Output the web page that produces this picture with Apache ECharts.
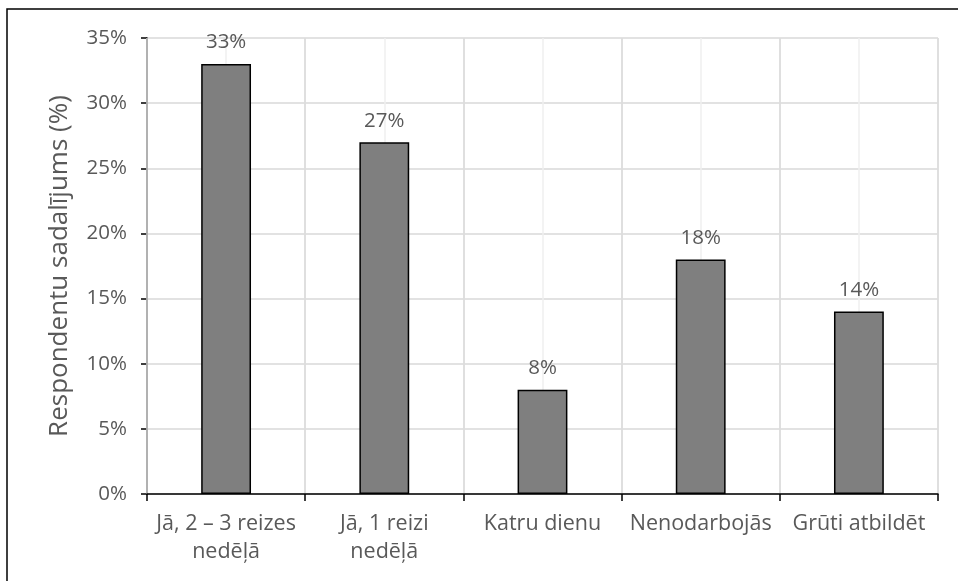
<!DOCTYPE html>
<html>
<head>
<meta charset="utf-8">
<script src="https://cdn.jsdelivr.net/npm/echarts@6/dist/echarts.min.js"></script>
<style>html,body{margin:0;padding:0;background:#fff}#c{width:958px;height:581px}</style>
</head>
<body>
<div id="c"></div>
<script>
const categories = ["Jā, 2 – 3 reizes\nnedēļā", "Jā, 1 reizi\nnedēļā", "Katru dienu", "Nenodarbojās", "Grūti atbildēt"];
const values = [0.33, 0.27, 0.08, 0.18, 0.14];
const yAxisTitle = "Respondentu sadalījums (%)";

const FONT = "Open Sans";
const TXT = "#595959";
const chart = echarts.init(document.getElementById('c'), null, {renderer: 'canvas'});
chart.setOption({
  animation: false,
  backgroundColor: '#fff',
  graphic: [{
    type: 'rect', shape: {x: 7, y: 9, width: 980, height: 600},
    style: {fill: 'none', stroke: '#000', lineWidth: 1.5}, z: 100, silent: true
  }],
  grid: {left: 147, right: 20, top: 38, bottom: 87},
  xAxis: [{
    type: 'category', data: categories,
    axisLine: {lineStyle: {color: '#000', width: 1.5}},
    axisTick: {show: true, length: 7, lineStyle: {color: '#000', width: 1.5}},
    axisLabel: {color: TXT, fontFamily: FONT, fontSize: 21.5, margin: 16, lineHeight: 28, interval: 0},
    splitLine: {show: true, lineStyle: {color: '#d9d9d9', width: 1.5}},
    z: 5
  }, {
    type: 'value', min: 0, max: 10, interval: 1, show: true, position: 'top',
    axisLine: {show: false}, axisTick: {show: false}, axisLabel: {show: false},
    splitLine: {show: true, lineStyle: {color: '#efefef', width: 1.5}}
  }],
  yAxis: {
    type: 'value', min: 0, max: 0.35, interval: 0.05,
    name: yAxisTitle, nameLocation: 'middle', nameGap: 74,
    nameTextStyle: {color: TXT, fontFamily: FONT, fontSize: 26},
    axisLine: {show: true, lineStyle: {color: '#000', width: 1.5}},
    axisTick: {show: true, length: 6, lineStyle: {color: '#000', width: 1.5}},
    axisLabel: {color: TXT, fontFamily: FONT, fontSize: 20.5, margin: 20,
      formatter: v => Math.round(v * 100) + '%'},
    splitLine: {show: true, lineStyle: {color: '#d9d9d9', width: 1.5}}
  },
  series: [{
    type: 'bar', data: values, barWidth: '31.5%', xAxisIndex: 0,
    itemStyle: {color: '#7f7f7f', borderColor: '#000', borderWidth: 1.5},
    label: {show: true, position: 'top', distance: 11, color: TXT, fontFamily: FONT, fontSize: 20.5,
      formatter: p => Math.round(p.value * 100) + '%'},
    z: 10
  }]
});
</script>
</body>
</html>
